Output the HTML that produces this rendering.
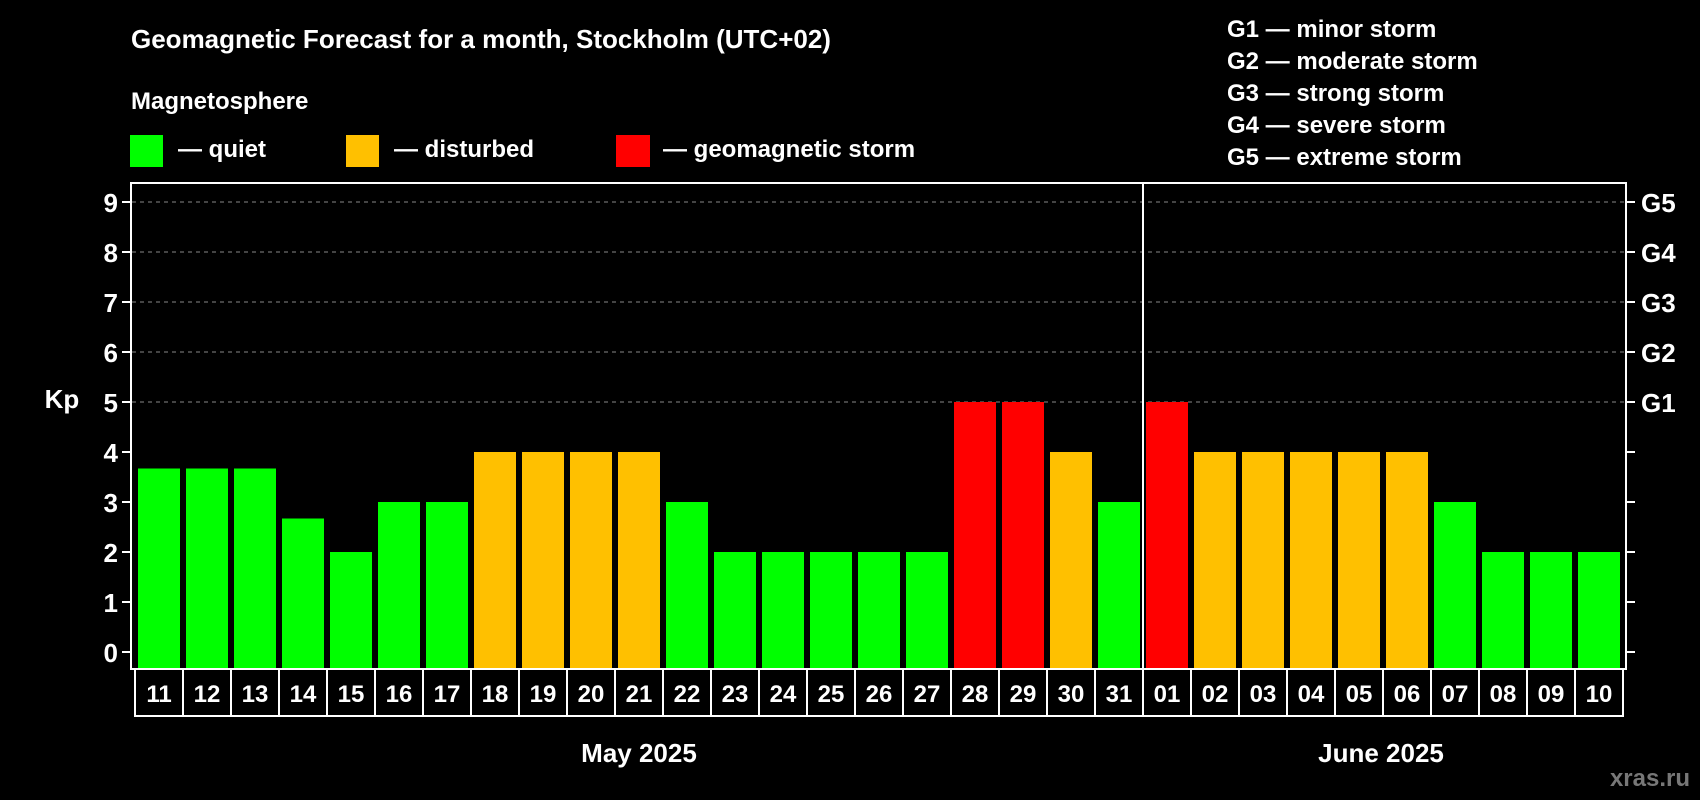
<!DOCTYPE html>
<html><head><meta charset="utf-8"><style>
html,body{margin:0;padding:0;background:#000;}
svg{display:block;font-family:"Liberation Sans",Arial,sans-serif;font-weight:bold;}
</style></head><body>
<svg id="chart" width="1700" height="800" viewBox="0 0 1700 800">
<rect x="0" y="0" width="1700" height="800" fill="#000"/>
<text x="131" y="48" fill="#fff" font-size="26">Geomagnetic Forecast for a month, Stockholm (UTC+02)</text>
<text x="131" y="109" fill="#fff" font-size="24">Magnetosphere</text>
<g><rect x="130" y="135" width="33" height="32" fill="#00ff00"/><text x="178" y="157" fill="#fff" font-size="24">— quiet</text></g>
<g><rect x="346" y="135" width="33" height="32" fill="#ffc000"/><text x="394" y="157" fill="#fff" font-size="24">— disturbed</text></g>
<g><rect x="616" y="135" width="34" height="32" fill="#ff0000"/><text x="663" y="157" fill="#fff" font-size="24">— geomagnetic storm</text></g>
<g fill="#fff" font-size="24">
<text x="1227" y="37">G1 — minor storm</text>
<text x="1227" y="69">G2 — moderate storm</text>
<text x="1227" y="101">G3 — strong storm</text>
<text x="1227" y="133">G4 — severe storm</text>
<text x="1227" y="165">G5 — extreme storm</text>
</g>
<g id="grid"></g>
<g id="bars"></g>
<rect x="131" y="183" width="1495" height="486" fill="none" stroke="#fff" stroke-width="2"/>
<line x1="1143" y1="183" x2="1143" y2="669" stroke="#fff" stroke-width="2"/>
<g id="axes"></g>
<text x="62" y="408" fill="#fff" font-size="26" text-anchor="middle">Kp</text>
<text x="639" y="762" fill="#fff" font-size="26" text-anchor="middle">May 2025</text>
<text x="1381" y="762" fill="#fff" font-size="26" text-anchor="middle">June 2025</text>
<text x="1690" y="786" fill="#777" font-size="24" text-anchor="end">xras.ru</text>
</svg>
<script>
const days = ["11","12","13","14","15","16","17","18","19","20","21","22","23","24","25","26","27","28","29","30","31","01","02","03","04","05","06","07","08","09","10"];
const kpValues = [3.67,3.67,3.67,2.67,2,3,3,4,4,4,4,3,2,2,2,2,2,5,5,4,3,5,4,4,4,4,4,3,2,2,2];
const yTicks = [0,1,2,3,4,5,6,7,8,9];
const gLabels = ["G1","G2","G3","G4","G5"];
const NS="http://www.w3.org/2000/svg";
function y(v){return 652-50*v;}
function xc(i){return 159+48*i;}
function color(v){return v>=5?"#ff0000":(v>=4?"#ffc000":"#00ff00");}
function mk(t,a){const e=document.createElementNS(NS,t);for(const k in a)e.setAttribute(k,a[k]);return e;}
const grid=document.getElementById("grid"),bars=document.getElementById("bars"),axes=document.getElementById("axes");
yTicks.forEach(v=>{
  if(v>=5){const l=mk("line",{x1:132,x2:1625,y1:y(v),y2:y(v),stroke:"#888","stroke-width":1,"stroke-dasharray":"4 4"});
    
    
    grid.appendChild(l);}
  const t1=mk("line",{x1:122,x2:131,y1:y(v),y2:y(v),stroke:"#fff","stroke-width":2});
  
  
  axes.appendChild(t1);
  const t2=mk("line",{x1:1626,x2:1635,y1:y(v),y2:y(v),stroke:"#fff","stroke-width":2});
  
  
  axes.appendChild(t2);
  const lb=mk("text",{x:118,y:y(v)+10,fill:"#fff","font-size":26,"text-anchor":"end"});
  lb.textContent=v;
  
  
  axes.appendChild(lb);
});
gLabels.forEach((g,i)=>{
  const lb=mk("text",{x:1641,y:y(5+i)+10,fill:"#fff","font-size":26});
  lb.textContent=g;
  
  
  axes.appendChild(lb);
});
days.forEach((d,i)=>{
  const v=kpValues[i];
  const r=mk("rect",{x:xc(i)-21,y:y(v),width:42,height:y(0)-y(v)+16,fill:color(v)});
  
  
  bars.appendChild(r);
  const c=mk("rect",{x:xc(i)-24,y:669,width:48,height:47,fill:"none",stroke:"#fff","stroke-width":2});
  
  
  axes.appendChild(c);
  const t=mk("text",{x:xc(i),y:702,fill:"#fff","font-size":24,"text-anchor":"middle"});
  t.textContent=d;
  
  
  axes.appendChild(t);
});
</script>
</body></html>
